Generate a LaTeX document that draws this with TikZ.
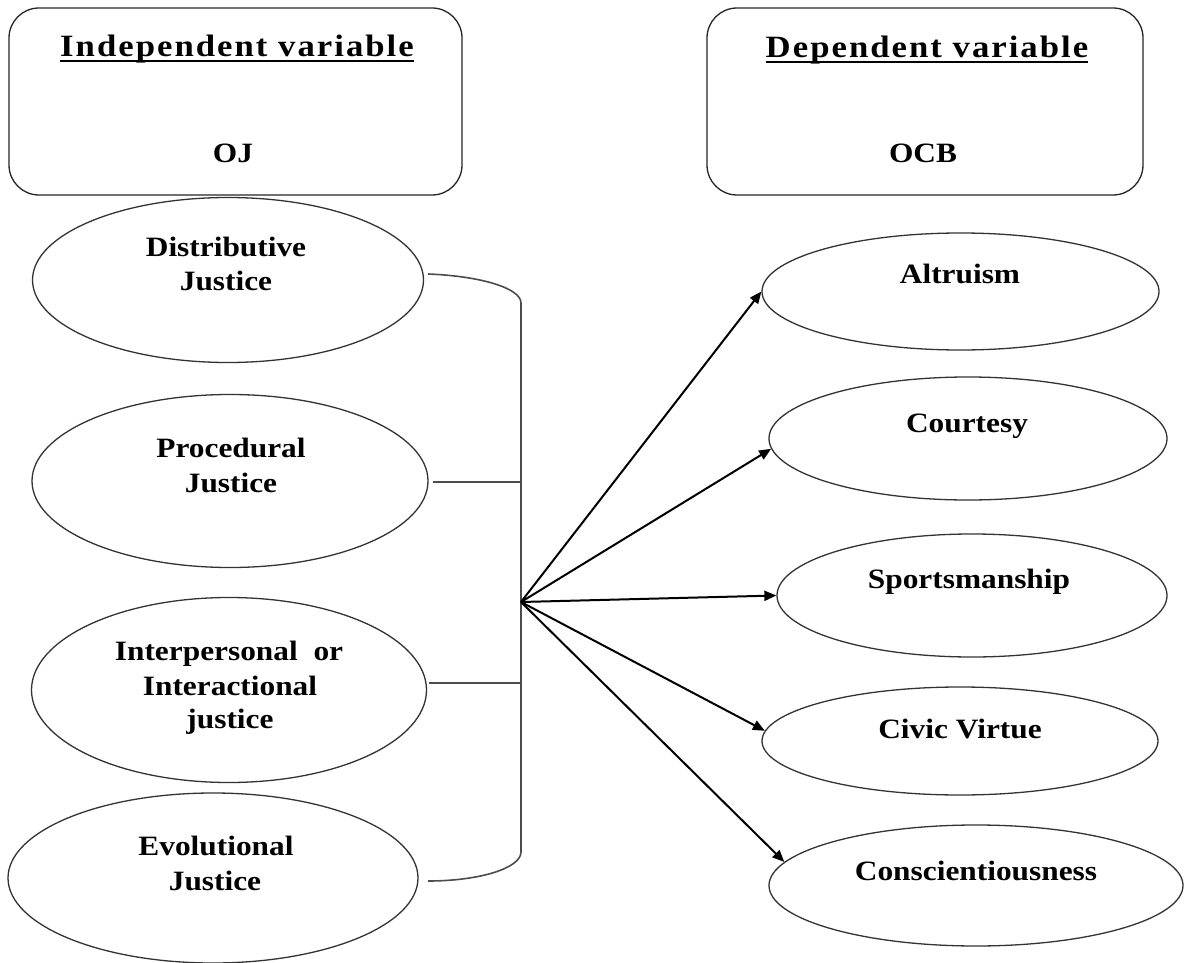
\documentclass[tikz,border=0pt]{standalone}
\usepackage{fontspec}
\setmainfont{Liberation Serif}[FakeStretch=1.12]
\usetikzlibrary{shapes.geometric,arrows.meta}
\begin{document}
\begin{tikzpicture}[x=1pt,y=-1pt,
  lbl/.style={font=\fontsize{28}{34}\selectfont\bfseries, inner sep=0pt, anchor=base, text=black},
  hdr/.style={font=\fontsize{31}{37}\selectfont\bfseries\addfontfeature{LetterSpace=6.5}, inner sep=0pt, anchor=base},
  box/.style={draw=black!85, line width=1.3pt, rounded corners=30pt, inner sep=0pt},
  ell/.style={draw=black!80, line width=1.3pt, ellipse, inner sep=0pt},
  brk/.style={draw=black!70, line width=1.6pt},
  arr/.style={draw=black, line width=2pt, -{Triangle[length=12pt,width=10pt]}}
]
\useasboundingbox (0,0) rectangle (1184,963);
\fill[white] (0,0) rectangle (1184,963);

% header boxes
\node[box, minimum width=453pt, minimum height=187pt] (ivbox) at (235.5,101.5) {};
\node[box, minimum width=436pt, minimum height=187pt] (dvbox) at (925,101.5) {};
\node[hdr] (ivt) at (237,57) {Independent variable};
\node[hdr] (dvt) at (927,58) {Dependent variable};
\draw[line width=2.2pt] ([yshift=-4pt]ivt.base west) -- ([yshift=-4pt]ivt.base east);
\draw[line width=2.2pt] ([yshift=-4pt]dvt.base west) -- ([yshift=-4pt]dvt.base east);
\node[lbl] (oj) at (233,163) {OJ};
\node[lbl] (ocb) at (923,163) {OCB};

% left ellipses
\node[ell, minimum width=391pt, minimum height=165pt] (dis) at (228,280) {};
\node[ell, minimum width=396pt, minimum height=173pt] (pro) at (230,481) {};
\node[ell, minimum width=395pt, minimum height=185pt] (int) at (229,690) {};
\node[ell, minimum width=410pt, minimum height=170pt] (evo) at (213,878) {};

\node[lbl] (dis1) at (226,256) {Distributive};
\node[lbl] (dis2) at (226,290) {Justice};
\node[lbl] (pro1) at (231,457) {Procedural};
\node[lbl] (pro2) at (231,492) {Justice};
\node[lbl] (int1) at (229,660) {Interpersonal\ \ or};
\node[lbl] (int2) at (230,695) {Interactional};
\node[lbl] (int3) at (230,728) {justice};
\node[lbl] (evo1) at (216,855) {Evolutional};
\node[lbl] (evo2) at (215,890) {Justice};

% right ellipses
\node[ell, minimum width=397pt, minimum height=117pt] (alt) at (960.5,291.5) {};
\node[ell, minimum width=398pt, minimum height=123pt] (cou) at (968,438.5) {};
\node[ell, minimum width=390pt, minimum height=123pt] (spo) at (972,595.5) {};
\node[ell, minimum width=396pt, minimum height=108pt] (civ) at (960,741) {};
\node[ell, minimum width=414pt, minimum height=121pt] (con) at (976,885.5) {};

\node[lbl] (alt1) at (960,283) {Altruism};
\node[lbl] (cou1) at (967,432) {Courtesy};
\node[lbl] (spo1) at (969,588) {Sportsmanship};
\node[lbl] (civ1) at (960,738) {Civic Virtue};
\node[lbl] (con1) at (976,880) {Conscientiousness};

% bracket
\coordinate (bt) at (428,274);
\coordinate (bb) at (428,881);
\coordinate (vt) at (521,303);
\coordinate (vb) at (521,852);
\coordinate (bp) at (521,482);
\coordinate (bi) at (521,683);
\coordinate (o) at (521,602);
\draw[brk] (bt) .. controls (480,276) and (521,288) .. (vt) -- (vb) .. controls (521,868) and (480,881) .. (bb);
\draw[brk] ([xshift=4pt]pro.east |- bp) -- (bp);
\draw[brk] ([xshift=2pt]int.east |- bi) -- (bi);

% arrows
\draw[arr] (o) -- (alt.west);
\draw[arr] (o) -- (cou.183);
\draw[arr] (o) -- (spo.west);
\draw[arr] (o) -- (civ.177);
\draw[arr] (o) -- (con.173);
\end{tikzpicture}
\end{document}
